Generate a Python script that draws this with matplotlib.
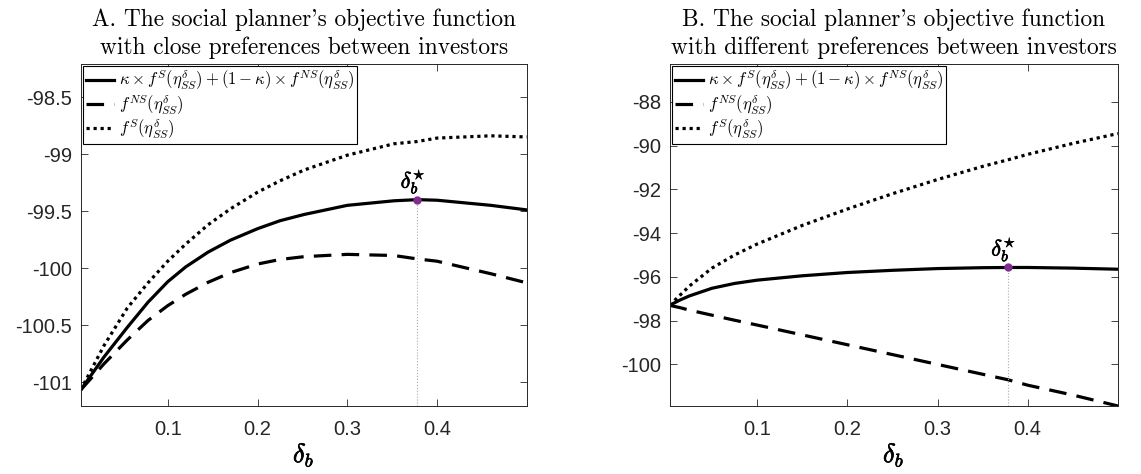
import numpy as np
import matplotlib
matplotlib.use("Agg")
import matplotlib.pyplot as plt
import matplotlib.patheffects as pe

plt.rcParams['mathtext.fontset'] = 'cm'
plt.rcParams['axes.unicode_minus'] = False

# --- data ---
x_a = [0.003, 0.029, 0.055, 0.078, 0.1, 0.12, 0.145, 0.17, 0.2, 0.225, 0.252, 0.3, 0.352, 0.378, 0.4, 0.46, 0.5]
mix_a = [-101.07, -100.78, -100.52, -100.30, -100.12, -99.99, -99.86, -99.755, -99.655, -99.585, -99.53,
         -99.45, -99.41, -99.40, -99.405, -99.45, -99.49]
ns_a = [-101.07, -100.84, -100.63, -100.46, -100.33, -100.23, -100.125, -100.04, -99.965, -99.925, -99.90,
        -99.88, -99.89, -99.92, -99.94, -100.05, -100.13]
s_a = [-101.07, -100.68, -100.35, -100.13, -99.94, -99.79, -99.62, -99.48, -99.335, -99.235, -99.14,
       -99.01, -98.91, -98.89, -98.86, -98.84, -98.85]

x_b = [0.003, 0.015, 0.025, 0.05, 0.075, 0.1, 0.15, 0.2, 0.25, 0.3, 0.35, 0.378, 0.4, 0.45, 0.5]
mix_b = [-97.3, -97.05, -96.87, -96.52, -96.3, -96.15, -95.95, -95.8, -95.7, -95.62, -95.58, -95.57,
         -95.57, -95.6, -95.65]
ns_b = [-97.3, -97.41, -97.52, -97.75, -97.98, -98.2, -98.65, -99.1, -99.55, -100.0, -100.45, -100.7,
        -100.95, -101.4, -101.9]
s_b = [-97.3, -96.82, -96.42, -95.6, -95.0, -94.5, -93.65, -92.9, -92.2, -91.55, -90.95, -90.65,
       -90.4, -89.9, -89.45]

delta_star = 0.378
peak_a = -99.40
peak_b = -95.57

xticks = [0.1, 0.2, 0.3, 0.4]
yticks_a = [-101, -100.5, -100, -99.5, -99, -98.5]
yticks_b = [-100, -98, -96, -94, -92, -90, -88]

titles = ["A. The social planner's objective function\nwith close preferences between investors",
          "B. The social planner's objective function\nwith different preferences between investors"]
labels = [r'$\kappa \times f^{S}(\eta^{\delta}_{SS}) + (1-\kappa) \times f^{NS}(\eta^{\delta}_{SS})$',
          r'$f^{NS}(\eta^{\delta}_{SS})$',
          r'$f^{S}(\eta^{\delta}_{SS})$']

fig = plt.figure(figsize=(11.41, 4.74), dpi=100)
ax1 = fig.add_axes([0.0707, 0.1435, 0.391, 0.7215])
ax2 = fig.add_axes([0.5868, 0.1435, 0.393, 0.7215])

bold = [pe.withStroke(linewidth=0.5, foreground='black')]
axcol = '#262626'

panels = [(ax1, x_a, mix_a, ns_a, s_a, peak_a, yticks_a, (-101.21, -98.21), titles[0]),
          (ax2, x_b, mix_b, ns_b, s_b, peak_b, yticks_b, (-101.9, -86.27), titles[1])]

for ax, x, mix, ns, s, peak, yt, ylim, title in panels:
    ax.plot(x, mix, color='black', lw=2.3, label=labels[0])
    ax.plot(x, ns, color='black', lw=2.3, dashes=(5.5, 3.2), label=labels[1])
    ax.plot(x, s, color='black', lw=2.3, dashes=(1.0, 1.2), label=labels[2])
    ax.plot([delta_star, delta_star], [ylim[0], peak], color='#aaaaaa', lw=0.8, ls=':')
    ax.plot(delta_star, peak, 'o', color='#7E2F8E', ms=5, zorder=5)
    ax.annotate(r'$\delta_b^{\star}$', (delta_star, peak), xytext=(-3, 3),
                textcoords='offset points', ha='center', va='bottom', fontsize=16,
                path_effects=bold)
    ax.set_xlim(0.003, 0.5)
    ax.set_ylim(*ylim)
    ax.set_xticks(xticks)
    ax.set_xticklabels([f'{v:g}' for v in xticks])
    ax.set_yticks(yt)
    ax.set_yticklabels([f'{v:g}' for v in yt])
    ax.tick_params(direction='in', top=True, right=True, length=5, width=0.6,
                   colors=axcol, labelsize=14.5, pad=6)
    ax.tick_params(axis='x', pad=10)
    for lab in ax.get_xticklabels() + ax.get_yticklabels():
        lab.set_fontfamily('Liberation Sans')
    for sp in ax.spines.values():
        sp.set_color(axcol)
        sp.set_linewidth(0.7)
    ax.set_xlabel(r'$\delta_b$', fontsize=19, labelpad=1, path_effects=bold)
    ax.set_title(title, family=['cmr10', 'DejaVu Serif'], fontsize=16.8, pad=7,
                 linespacing=1.35)
    leg = ax.legend(loc='upper left', bbox_to_anchor=(0, 1), borderaxespad=0.15,
                    fontsize=12, fancybox=False, framealpha=1, edgecolor='black',
                    borderpad=0.15, labelspacing=0.05, handlelength=1.7,
                    handletextpad=0.3)
    leg.get_frame().set_linewidth(0.8)

fig.savefig('out.png', dpi=100)
